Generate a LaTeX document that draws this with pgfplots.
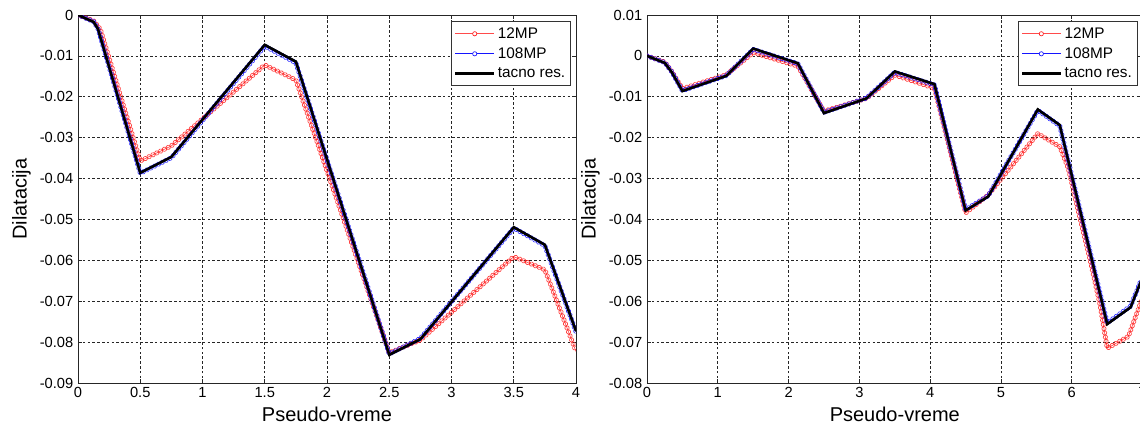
\documentclass[border=0pt]{standalone}
\usepackage{fontspec}
\setmainfont{Liberation Sans}
\usepackage{pgfplots}
\usepackage{pgfplotstable}
\pgfplotsset{compat=1.18}
\usetikzlibrary{decorations.markings}

\definecolor{mred}{RGB}{255,30,30}
\definecolor{mblue}{RGB}{20,20,255}

\pgfplotstableread{
x y
0 0
0.125 -0.0017
0.16 -0.0034
0.5 -0.0386
0.75 -0.0347
1.5 -0.0073
1.75 -0.0114
2.5 -0.0831
2.75 -0.0793
3.5 -0.0519
3.75 -0.0562
4 -0.0773
}\LeftBlack
\pgfplotstableread{
x y
0 0
0.125 -0.0016
0.16 -0.0033
0.5 -0.0387
0.75 -0.0349
1.5 -0.0076
1.75 -0.0117
2.5 -0.0829
2.75 -0.0791
3.5 -0.0521
3.75 -0.0564
4 -0.0775
}\LeftBlue
\pgfplotstableread{
x y
0 0
0.125 -0.0014
0.18 -0.0035
0.5 -0.0357
0.75 -0.0320
1.5 -0.0122
1.75 -0.0159
2.5 -0.0826
2.75 -0.0795
3.5 -0.0591
3.75 -0.0623
4 -0.0823
}\LeftRed

\pgfplotstableread{
x y
0 0
0.25 -0.0017
0.35 -0.0040
0.5 -0.0086
1.12 -0.0049
1.5 0.0018
2.13 -0.0018
2.5 -0.0140
3.1 -0.0104
3.5 -0.0038
4.06 -0.0069
4.5 -0.0378
4.82 -0.0344
5.52 -0.0131
5.83 -0.0169
6.5 -0.0656
6.83 -0.0615
6.98 -0.0550
}\RightBlack
\pgfplotstableread{
x y
0 0
0.25 -0.0016
0.35 -0.0039
0.5 -0.0085
1.12 -0.0048
1.5 0.0016
2.13 -0.0019
2.5 -0.0138
3.1 -0.0103
3.5 -0.0040
4.06 -0.0071
4.5 -0.0376
4.82 -0.0342
5.52 -0.0133
5.83 -0.0171
6.5 -0.0653
6.83 -0.0612
6.98 -0.0548
}\RightBlue
\pgfplotstableread{
x y
0 0
0.25 -0.0015
0.35 -0.0038
0.5 -0.0080
1.12 -0.0046
1.5 0.0008
2.13 -0.0025
2.5 -0.0135
3.1 -0.0104
3.5 -0.0047
4.06 -0.0079
4.5 -0.0384
4.82 -0.0340
5.52 -0.0190
5.83 -0.0222
5.95 -0.0275
6.12 -0.0400
6.26 -0.0500
6.4 -0.0610
6.5 -0.0715
6.8 -0.0686
6.98 -0.0600
}\RightRed

\tikzset{
  redmarks/.style={postaction={decorate,
    decoration={markings, mark=between positions 0 and 1 step 3.2pt with
      {\draw[mred, draw opacity=0.85, line width=0.5pt] (0pt,0pt) circle (1.6pt);}}}},
  bluemarks/.style={postaction={decorate,
    decoration={markings, mark=between positions 0 and 1 step 3.2pt with
      {\draw[mblue, draw opacity=0.85, line width=0.5pt] (0pt,0pt) circle (1.6pt);}}}},
}

\pgfplotsset{
  myax/.style={
    scale only axis, height=276pt,
    scaled x ticks=false, scaled y ticks=false,
    axis line style={black!85, line width=0.6pt},
    grid=major,
    major grid style={black!85, dash pattern=on 2pt off 1.6pt, line width=0.5pt},
    tick align=inside, major tick length=3pt,
    tick style={black!85, line width=0.5pt},
    ticklabel style={font=\fontsize{11}{13}\selectfont},
    xlabel style={font=\fontsize{15}{18}\selectfont},
    ylabel style={font=\fontsize{15}{18}\selectfont},
    xlabel={Pseudo-vreme}, ylabel={Dilatacija},
    legend cell align=left,
    legend style={font=\fontsize{11.5}{14}\selectfont, draw=black!80, line width=0.6pt,
      at={(1,1)}, anchor=north east, xshift=-3.75pt, yshift=-4.5pt,
      inner xsep=2pt, inner ysep=2.5pt, row sep=1.5pt},
  },
  redleg/.style={legend image code/.code={
      \draw[mred!80, line width=0.6pt] (0pt,0pt) -- (29pt,0pt);
      \draw[mred, line width=0.5pt, fill=white] (14.5pt,0pt) circle (1.6pt);}},
  blueleg/.style={legend image code/.code={
      \draw[mblue, line width=0.6pt] (0pt,0pt) -- (29pt,0pt);
      \draw[mblue, line width=0.5pt, fill=white] (14.5pt,0pt) circle (1.6pt);}},
  blackleg/.style={legend image code/.code={
      \draw[black, line width=1.8pt] (0pt,0pt) -- (29pt,0pt);}},
}

\begin{document}
\begin{tikzpicture}
\begin{axis}[myax, at={(58.5pt,-287.25pt)}, anchor=south west, width=373.5pt,
  xmin=0, xmax=4, ymin=-0.09, ymax=0,
  xtick={0,0.5,1,1.5,2,2.5,3,3.5,4},
  xticklabels={0,0.5,1,1.5,2,2.5,3,3.5,4},
  ytick={-0.09,-0.08,-0.07,-0.06,-0.05,-0.04,-0.03,-0.02,-0.01,0},
  yticklabels={-0.09,-0.08,-0.07,-0.06,-0.05,-0.04,-0.03,-0.02,-0.01,0}]
\addplot[mred!80, line width=0.5pt, redleg] table {\LeftRed};
\addlegendentry{12MP}
\addplot[mblue, line width=0.5pt, blueleg] table {\LeftBlue};
\addlegendentry{108MP}
\addplot[black, line width=1.8pt, blackleg] table {\LeftBlack};
\addlegendentry{tacno res.}
\addplot[forget plot, draw opacity=0, redmarks] table {\LeftRed};
\addplot[forget plot, draw opacity=0, bluemarks] table {\LeftBlue};
\addplot[forget plot, black, line width=1.8pt] table {\LeftBlack};
\end{axis}
\begin{axis}[myax, at={(485.25pt,-287.25pt)}, anchor=south west, width=371.7pt,
  xmin=0, xmax=7, ymin=-0.08, ymax=0.01,
  xtick={0,1,2,3,4,5,6,7},
  xticklabels={0,1,2,3,4,5,6,7},
  ytick={-0.08,-0.07,-0.06,-0.05,-0.04,-0.03,-0.02,-0.01,0,0.01},
  yticklabels={-0.08,-0.07,-0.06,-0.05,-0.04,-0.03,-0.02,-0.01,0,0.01}]
\addplot[mred!80, line width=0.5pt, redleg] table {\RightRed};
\addlegendentry{12MP}
\addplot[mblue, line width=0.5pt, blueleg] table {\RightBlue};
\addlegendentry{108MP}
\addplot[black, line width=1.8pt, blackleg] table {\RightBlack};
\addlegendentry{tacno res.}
\addplot[forget plot, draw opacity=0, redmarks] table {\RightRed};
\addplot[forget plot, draw opacity=0, bluemarks] table {\RightBlue};
\addplot[forget plot, black, line width=1.8pt] table {\RightBlack};
\end{axis}
\pgfresetboundingbox
\path[use as bounding box] (0pt,0pt) rectangle (855pt,-321.75pt);
\end{tikzpicture}
\end{document}
